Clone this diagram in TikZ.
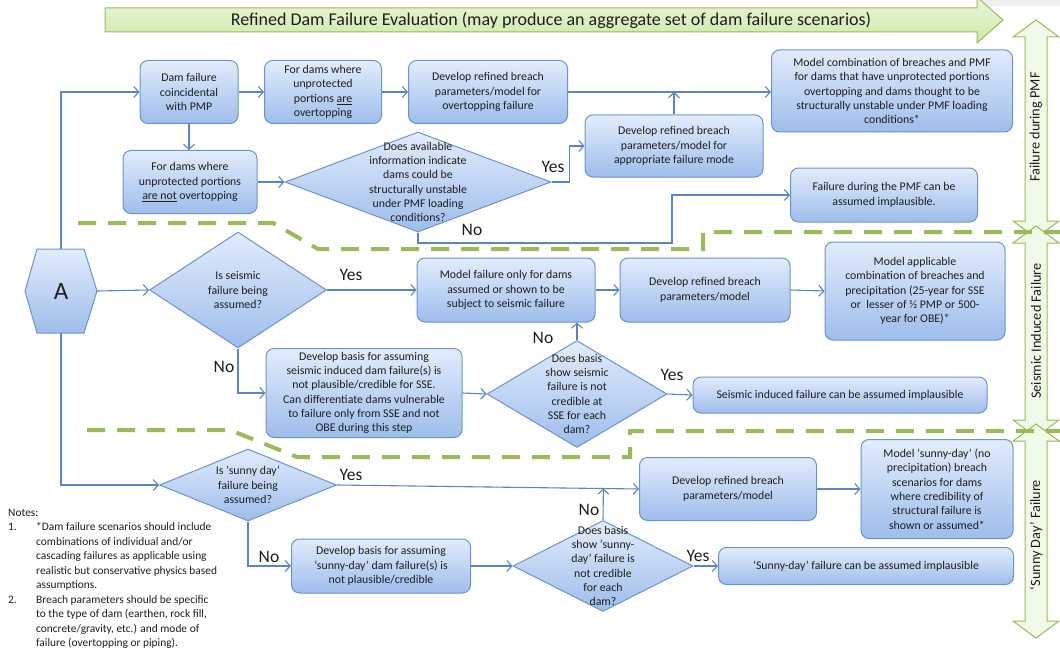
\documentclass[tikz,border=0pt]{standalone}
\usepackage{fontspec}
\setmainfont{Carlito}
\usetikzlibrary{shapes.geometric,arrows.meta,calc}
\definecolor{bxtop}{HTML}{E2ECFC}
\definecolor{bxbot}{HTML}{9EBDEB}
\definecolor{bxline}{HTML}{6C93D0}
\definecolor{lnblue}{HTML}{5A86C6}
\definecolor{gline}{HTML}{9BBB59}
\definecolor{gtop}{HTML}{EAF6DA}
\definecolor{gbot}{HTML}{CDE8A8}
\definecolor{gpale}{HTML}{F1F9E8}
\definecolor{txt}{HTML}{1E1E1E}
\newcommand\boxfont{\fontsize{11.8}{14.3}\selectfont}
\newcommand\ynfont{\fontsize{17.5}{19}\selectfont}
\newcommand\sidefont{\fontsize{14.3}{16}\selectfont}
\newcommand\notefont{\fontsize{11.4}{14.5}\selectfont}
\newcommand\vdarrow[2]{%
  \path[draw=gline, line width=1pt, fill=gpale]
    (1036,#1) -- (1059,#1+17) -- (1047,#1+17) -- (1047,#2-17) -- (1059,#2-17)
    -- (1036,#2) -- (1013,#2-17) -- (1025,#2-17) -- (1025,#1+17) -- (1013,#1+17) -- cycle;}
\tikzset{
  box/.style={draw=bxline, line width=1pt, rounded corners=8pt, top color=bxtop, bottom color=bxbot,
    align=center, inner sep=1pt, font=\boxfont, text=txt},
  dia/.style={diamond, draw=bxline, line width=1pt, top color=bxtop, bottom color=bxbot, inner sep=0pt},
  dtext/.style={align=center, font=\boxfont, text=txt, inner sep=0pt},
  link/.style={draw=lnblue, line width=1.1pt, -{Straight Barb[length=5pt,width=11pt]}},
  yn/.style={font=\ynfont, text=txt, inner sep=0pt},
  band/.style={draw=gline, line width=4pt, dash pattern=on 18pt off 12pt},
}
\begin{document}
\begin{tikzpicture}[x=1pt,y=-1pt]
\useasboundingbox (0,0) rectangle (1060,650);
% top gray strip and title banner
\fill[black!6] (983,0) rectangle (1060,6);
\path[draw=gline, line width=1pt, top color=gtop, bottom color=gbot]
  (105,8) -- (977,8) -- (977,-3) -- (1003,20) -- (977,43) -- (977,32) -- (105,32) -- cycle;
\node[font=\fontsize{18}{20}\selectfont, text=txt] (title) at (551,20)
  {Refined Dam Failure Evaluation (may produce an aggregate set of dam failure scenarios)};
% side arrows
\vdarrow{20}{238}
\vdarrow{226}{437}
\vdarrow{424}{638}
\node[rotate=90, font=\sidefont, text=txt] (side1) at (1036,127) {Failure during PMF};
\node[rotate=90, font=\sidefont, text=txt] (side2) at (1036,331) {Seismic Induced Failure};
\node[rotate=90, font=\sidefont, text=txt] (side3) at (1036,535) {‘Sunny Day’ Failure};
% separators
\draw[band] (78,223) -- (273,223) -- (318,249) -- (703,249) -- (703,232) -- (1060,232);
\draw[band] (87,430) -- (230,430) -- (297,457) -- (630,457) -- (630,431) -- (1060,431);
% PMF row
\node[box, minimum width=98, minimum height=63] (p1) at (189,92) {Dam failure\\coincidental\\with PMP};
\node[box, minimum width=117, minimum height=63] (p2) at (323,92) {For dams where\\unprotected\\portions \underline{are}\\overtopping};
\node[box, minimum width=159, minimum height=63] (p3) at (488,92) {Develop refined breach\\parameters/model for\\overtopping failure};
\node[box, minimum width=241, minimum height=82] (p4) at (892,91) {Model combination of breaches and PMF\\for dams that have unprotected portions\\overtopping and dams thought to be\\structurally unstable under PMF loading\\conditions*};
\node[box, minimum width=134, minimum height=63] (p5) at (190,182) {For dams where\\unprotected portions\\\underline{are not} overtopping};
\node[dia, minimum width=266, minimum height=100] (d1) at (418,182) {};
\node[dtext] (d1t) at (d1.center) {Does available\\information indicate\\dams could be\\structurally unstable\\under PMF loading\\conditions?};
\node[box, minimum width=178, minimum height=62] (p6) at (674,146) {Develop refined breach\\parameters/model for\\appropriate failure mode};
\node[box, minimum width=187, minimum height=54] (p7) at (884,195) {Failure during the PMF can be\\assumed implausible.};
% hexagon A
\path[draw=bxline, line width=1pt, top color=bxtop, bottom color=bxbot]
  (25,291) -- (37,249) -- (84,249) -- (97,291) -- (84,333) -- (37,333) -- cycle;
\node[inner sep=0pt, minimum width=72, minimum height=84, font=\fontsize{25}{27}\selectfont, text=txt] (hexA) at (61,291) {A};
% seismic row
\node[dia, minimum width=177, minimum height=116] (d2) at (238,290) {};
\node[dtext] (d2t) at (d2.center) {Is seismic\\failure being\\assumed?};
\node[box, minimum width=178, minimum height=64] (p8) at (506,290) {Model failure only for dams\\assumed or shown to be\\subject to seismic failure};
\node[box, minimum width=170, minimum height=64] (p9) at (705,290) {Develop refined breach\\parameters/model};
\node[box, minimum width=180, minimum height=98] (p10) at (915,291) {Model applicable\\combination of breaches and\\precipitation (25-year for SSE\\or\ \ lesser of ½ PMP or 500-\\year for OBE)*};
\node[box, minimum width=196, minimum height=89, inner sep=0pt] (p11) at (364,393) {Develop basis for assuming\\seismic induced dam failure(s) is\\not plausible/credible for SSE.\\Can differentiate dams vulnerable\\to failure only from SSE and not\\OBE during this step};
\node[dia, minimum width=180, minimum height=107] (d3) at (577,394) {};
\node[dtext] (d3t) at (d3.center) {Does basis\\show seismic\\failure is not\\credible at\\SSE for each\\dam?};
\node[box, minimum width=294, minimum height=36] (p12) at (840,395) {Seismic induced failure can be assumed implausible};
% sunny-day row
\node[dia, minimum width=177, minimum height=72] (d4) at (248,485) {};
\node[dtext] (d4t) at (d4.center) {Is ‘sunny day’\\failure being\\assumed?};
\node[box, minimum width=177, minimum height=63] (p13) at (728,489) {Develop refined breach\\parameters/model};
\node[box, minimum width=152, minimum height=99] (p14) at (937,489) {Model ‘sunny-day’ (no\\precipitation) breach\\scenarios for dams\\where credibility of\\structural failure is\\shown or assumed*};
\node[box, minimum width=179, minimum height=54] (p15) at (381,566) {Develop basis for assuming\\‘sunny-day’ dam failure(s) is\\not plausible/credible};
\node[dia, minimum width=180, minimum height=91] (d5) at (603,566) {};
\node[dtext] (d5t) at (d5.center) {Does basis\\show ‘sunny-\\day’ failure is\\not credible\\for each\\dam?};
\node[box, minimum width=295, minimum height=37] (p16) at (866,566) {‘Sunny-day’ failure can be assumed implausible};
% connectors
\draw[link] (hexA.north) |- (p1.west);
\draw[link] (p1.east) -- (p2.west);
\draw[link] (p2.east) -- (p3.west);
\draw[link] (p3.east) -- (p3.east -| p4.west);
\draw[link] (p6.north) -- (p6.north |- p3.east);
\draw[link] (p1.south) -- (p1.south |- p5.north);
\draw[link] (p5.east) -- (d1.west);
\draw[link] (d1.east) -- ++(18,0) |- (p6.west);
\draw[link] (d1.south) |- (672,243) |- (p7.west);
\draw[link] (hexA.east) -- (d2.west);
\draw[link] (d2.east) -- (p8.west);
\draw[link] (p8.east) -- (p9.west);
\draw[link] (p9.east) -- (p10.west);
\draw[link] (d2.south) |- (p11.west);
\draw[link] (p11.east) -- (d3.west);
\draw[link] (d3.north) -- (d3.north |- p8.south);
\draw[link] (d3.east) -- (p12.west);
\draw[link] (hexA.south) |- (d4.west);
\draw[link] (d4.east) -- (p13.west);
\draw[link] (p13.east) -- (p14.west);
\draw[link] (d4.south) |- (p15.west);
\draw[link] (p15.east) -- (d5.west);
\draw[link] (d5.north) -- ($(d4.east)!(d5.north)!(p13.west)$);
\draw[link] (d5.east) -- (p16.west);
% yes / no labels
\node[yn] (y1) at (553,167) {Yes};
\node[yn] (n1) at (472,230) {No};
\node[yn] (y2) at (351,275) {Yes};
\node[yn] (n2) at (224,367) {No};
\node[yn] (n3) at (543,338) {No};
\node[yn] (y3) at (672,375) {Yes};
\node[yn] (y4) at (351,475) {Yes};
\node[yn] (n4) at (269,557) {No};
\node[yn] (n5) at (589,510) {No};
\node[yn] (y5) at (698,556) {Yes};
% notes
\node[anchor=north west, inner sep=0pt, font=\notefont, text=txt] (notes) at (8,506) {%
\begin{tabular}{@{}p{28pt}@{}l@{}}
\multicolumn{2}{@{}l}{Notes:}\\
1. & *Dam failure scenarios should include\\
   & combinations of individual and/or\\
   & cascading failures as applicable using\\
   & realistic but conservative physics based\\
   & assumptions.\\
2. & Breach parameters should be specific\\
   & to the type of dam (earthen, rock fill,\\
   & concrete/gravity, etc.) and mode of\\
   & failure (overtopping or piping).
\end{tabular}};
\end{tikzpicture}
\end{document}
